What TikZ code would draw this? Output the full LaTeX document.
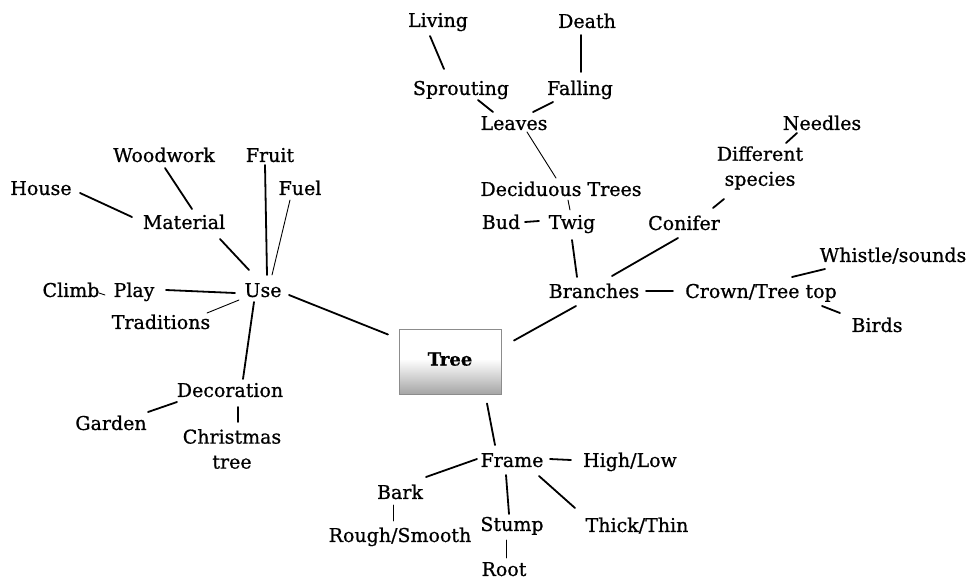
\documentclass[tikz,border=0pt]{standalone}
\usepackage{fontspec}
\setmainfont[FakeBold=0.8]{DejaVu Serif}
\usetikzlibrary{calc}
\pgfdeclareverticalshading{treeshade}{100bp}{color(0bp)=(black!55); color(20bp)=(black!42); color(38bp)=(black!18); color(52bp)=(white); color(100bp)=(white)}
\tikzset{
  lbl/.style={inner sep=0pt, text height=13.9pt, text depth=0pt, font=\fontsize{19}{25}\selectfont},
  twoline/.style={inner sep=0pt, align=center, font=\fontsize{19}{25}\selectfont},
  link/.style={line width=1.8pt, line cap=round},
  thin link/.style={line width=0.9pt, line cap=round},
  treebox/.style={draw=black!45, line width=0.9pt, shading=treeshade, minimum width=102pt, minimum height=65pt, inner sep=0pt}
}
\begin{document}
\begin{tikzpicture}[x=1pt, y=-1pt]
\useasboundingbox (0,0) rectangle (971,582);
\fill[white] (0,0) rectangle (971,582);
% nodes
\node[treebox] (tree) at (450,361.5) {};
\node[lbl, font=\fontsize{18}{20}\selectfont\bfseries, text height=13.1pt] (treelbl) at (450,359) {Tree};
\node[lbl] (living) at (438,20) {Living};
\node[lbl] (death) at (587,21) {Death};
\node[lbl] (sprouting) at (461,88) {Sprouting};
\node[lbl] (falling) at (580,88) {Falling};
\node[lbl] (leaves) at (514,123) {Leaves};
\node[lbl] (deciduous) at (561,189) {Deciduous Trees};
\node[lbl] (bud) at (501,222) {Bud};
\node[lbl] (twig) at (572,222) {Twig};
\node[lbl] (branches) at (594,291) {Branches};
\node[lbl] (conifer) at (684,223) {Conifer};
\node[twoline] (species) at (760,168) {Different\\species};
\node[lbl] (needles) at (822,123) {Needles};
\node[lbl] (crown) at (761,291) {Crown/Tree top};
\node[lbl] (whistle) at (893,255) {Whistle/sounds};
\node[lbl] (birds) at (877,325) {Birds};
\node[lbl] (use) at (263,290) {Use};
\node[lbl] (material) at (184,222) {Material};
\node[lbl] (woodwork) at (164,155) {Woodwork};
\node[lbl] (house) at (41,188) {House};
\node[lbl] (fruit) at (270,155) {Fruit};
\node[lbl] (fuel) at (300,188) {Fuel};
\node[lbl] (play) at (134,290) {Play};
\node[lbl] (climb) at (71,290) {Climb};
\node[lbl] (traditions) at (161,322) {Traditions};
\node[lbl] (decoration) at (230,390) {Decoration};
\node[lbl] (garden) at (111,423) {Garden};
\node[twoline] (christmas) at (232,449) {Christmas\\tree};
\node[lbl] (frame) at (512,460) {Frame};
\node[lbl] (highlow) at (630,460) {High/Low};
\node[lbl] (bark) at (400,492) {Bark};
\node[lbl] (rough) at (400,535) {Rough/Smooth};
\node[lbl] (stump) at (512,524) {Stump};
\node[lbl] (root) at (504,569) {Root};
\node[lbl] (thick) at (637,525) {Thick/Thin};
% connectors
\draw[link] ($(living)+(-8,16)$) -- ($(sprouting)+(-17,-19)$);
\draw[link] ($(death)+(-6,14)$) -- ($(falling)+(1,-16)$);
\draw[link] ($(sprouting)+(17,12)$) -- ($(leaves)+(-21,-11)$);
\draw[link] ($(falling)+(-27,14)$) -- ($(leaves)+(19,-11)$);
\draw[thin link] ($(leaves)+(13,9)$) -- ($(deciduous)+(-5,-11)$);
\draw[thin link] ($(deciduous)+(7,11)$) -- ($(twig)+(-2,-12)$);
\draw[link] ($(bud)+(24,0)$) -- ($(twig)+(-33,-1)$);
\draw[link] ($(twig)+(0,18)$) -- ($(branches)+(-17,-14)$);
\draw[link] ($(branches)+(18,-15)$) -- ($(conifer)+(-6,15)$);
\draw[link] ($(conifer)+(29,-15)$) -- ($(species)+(-36,31)$);
\draw[link] ($(species)+(26,-25)$) -- ($(needles)+(-25,10)$);
\draw[link] ($(branches)+(52,0)$) -- ($(crown)+(-88,0)$);
\draw[link] ($(crown)+(31,-14)$) -- ($(whistle)+(-68,14)$);
\draw[link] ($(crown)+(61,15)$) -- ($(birds)+(-37,-12)$);
\draw[link] ($(branches)+(-18,15)$) -- ($(tree)+(64,-21)$);
\draw[link] ($(use)+(26,5)$) -- ($(tree)+(-62,-27)$);
\draw[link] ($(use)+(-14,-20)$) -- ($(material)+(36,17)$);
\draw[link] ($(material)+(8,-13)$) -- ($(woodwork)+(1,13)$);
\draw[link] ($(material)+(-52,-5)$) -- ($(house)+(39,5)$);
\draw[link] ($(use)+(4,-15)$) -- ($(fruit)+(-5,10)$);
\draw[thin link] ($(use)+(9,-15)$) -- ($(fuel)+(-10,12)$);
\draw[link] ($(use)+(-28,3)$) -- ($(play)+(32,0)$);
\draw[thin link] ($(climb)+(28,3)$) -- ($(play)+(-29,5)$);
\draw[thin link] ($(use)+(-24,10)$) -- ($(traditions)+(46,-9)$);
\draw[link] ($(use)+(-9,12)$) -- ($(decoration)+(13,-11)$);
\draw[link] ($(decoration)+(-53,12)$) -- ($(garden)+(37,-11)$);
\draw[link] ($(decoration)+(8,17)$) -- ($(christmas)+(6,-27)$);
\draw[link] ($(tree)+(37,42)$) -- ($(frame)+(-17,-15)$);
\draw[link] ($(frame)+(38,-1)$) -- ($(highlow)+(-59,0)$);
\draw[link] ($(frame)+(-35,-1)$) -- ($(bark)+(26,-15)$);
\draw[link] ($(frame)+(-6,15)$) -- ($(stump)+(-3,-10)$);
\draw[link] ($(frame)+(27,16)$) -- ($(thick)+(-62,-17)$);
\draw[thin link] ($(bark)+(-7,13)$) -- ($(rough)+(-7,-14)$);
\draw[thin link] ($(stump)+(-6,16)$) -- ($(root)+(2,-11)$);
\end{tikzpicture}
\end{document}
